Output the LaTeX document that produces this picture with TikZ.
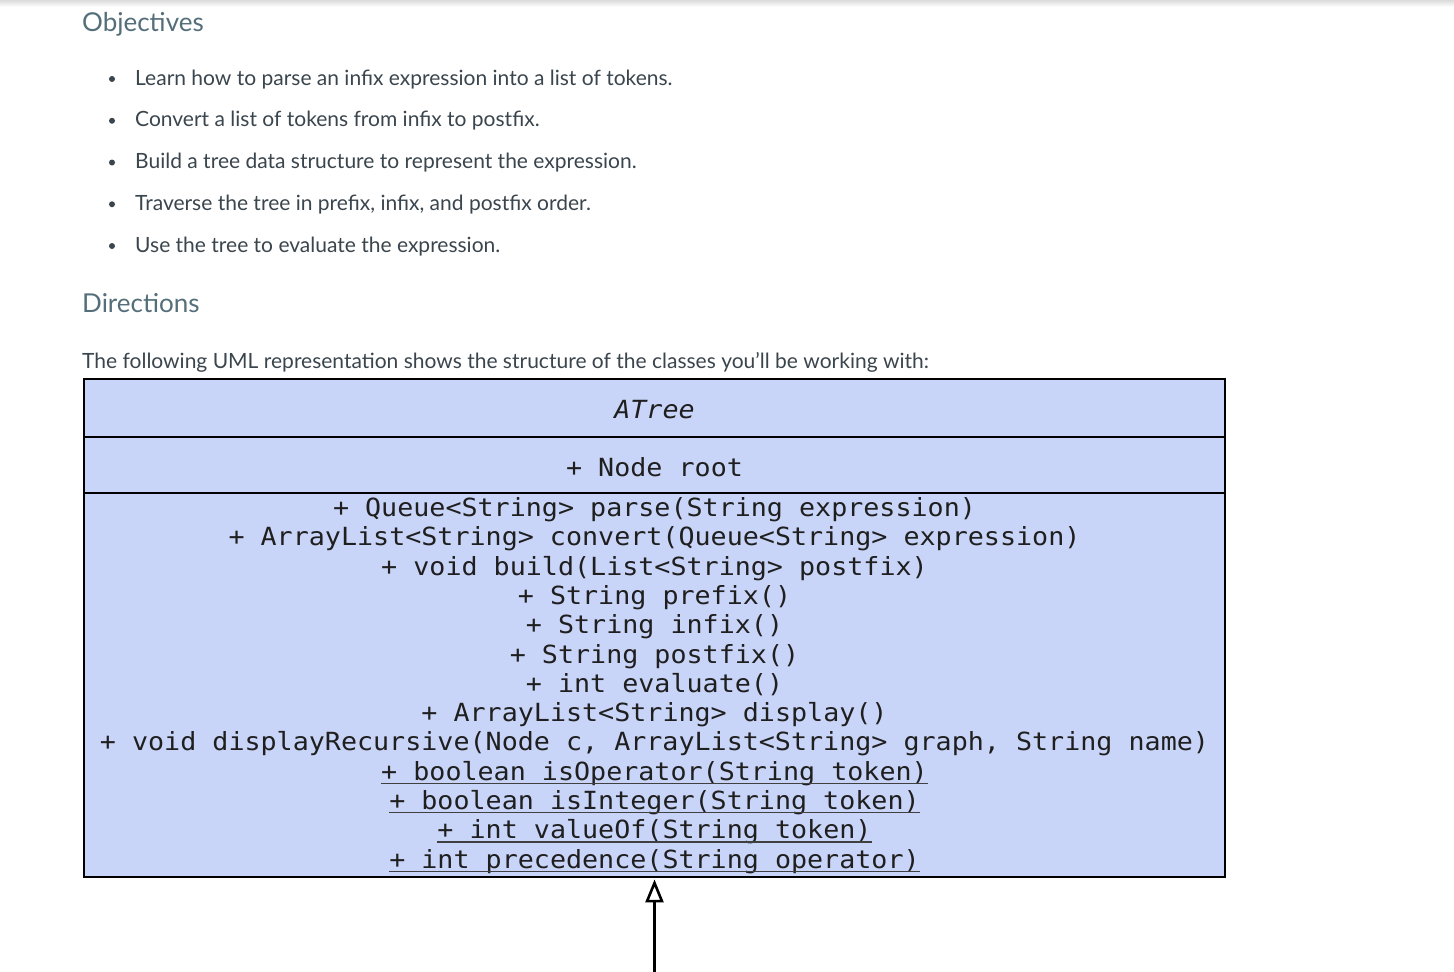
\documentclass[tikz,border=0pt]{standalone}
\usepackage{fontspec}
\setmainfont{Lato}
\newfontfamily\umlfont[FakeStretch=1.068]{DejaVu Sans Mono}
\usetikzlibrary{arrows.meta}
\definecolor{headcol}{HTML}{546E7A}
\definecolor{bodycol}{HTML}{3A454D}
\definecolor{umlfill}{HTML}{C9D5F8}
\begin{document}
\begin{tikzpicture}[x=1pt,y=-1pt,
  head/.style={anchor=base west, inner sep=0pt, text=headcol, font=\fontsize{26}{30}\selectfont},
  bodytext/.style={anchor=base west, inner sep=0pt, text=bodycol, font=\fontsize{21}{25}\selectfont},
  bulletdot/.style={circle, fill=bodycol, inner sep=0pt, minimum size=6pt},
  compart/.style={draw=black, line width=2.4pt, fill=umlfill, minimum width=1141pt, inner sep=0pt, anchor=north},
  umltext/.style={anchor=base, inner sep=0pt, font=\umlfont\fontsize{25}{30}\selectfont, text=black!88},
  uline/.style={line width=1.3pt, draw=black!75}]
\useasboundingbox (0,0) rectangle (1454,972);
\fill[white] (0,0) rectangle (1454,972);
\shade[top color=black!14, bottom color=white] (0,0) rectangle (1454,7);

\node[head] (obj) at (82,31) {Objectives};
\foreach \i/\t in {1/{Learn how to parse an infix expression into a list of tokens.},
                   2/{Convert a list of tokens from infix to postfix.},
                   3/{Build a tree data structure to represent the expression.},
                   4/{Traverse the tree in prefix, infix, and postfix order.},
                   5/{Use the tree to evaluate the expression.}}{
  \pgfmathsetmacro{\yb}{85+(\i-1)*41.75}
  \node[bulletdot] (d\i) at (112,\yb-6) {};
  \node[bodytext] (b\i) at (135,\yb) {\t};
}
\node[head] (dir) at (82,312) {Directions};
\node[bodytext] (intro) at (82,368) {The following UML representation shows the structure of the classes you’ll be working with:};

\node[compart, minimum height=58pt] (title) at (654.5,378) {};
\node[compart, minimum height=56pt] (attrs) at (654.5,436) {};
\node[compart, minimum height=384pt] (meths) at (654.5,492) {};

\node[umltext] (tname) at (654.5,418) {\itshape ATree};
\node[umltext] (aroot) at (654.5,476) {+ Node root};

\foreach \i/\t in {1/{+ Queue<String> parse(String expression)},
                   2/{+ ArrayList<String> convert(Queue<String> expression)},
                   3/{+ void build(List<String> postfix)},
                   4/{+ String prefix()},
                   5/{+ String infix()},
                   6/{+ String postfix()},
                   7/{+ int evaluate()},
                   8/{+ ArrayList<String> display()},
                   9/{+ void displayRecursive(Node c, ArrayList<String> graph, String name)},
                   10/{+ boolean isOperator(String token)},
                   11/{+ boolean isInteger(String token)},
                   12/{+ int valueOf(String token)},
                   13/{+ int precedence(String operator)}}{
  \pgfmathsetmacro{\yb}{516.5+(\i-1)*29.3}
  \node[umltext] (m\i) at (654.5,\yb) {\t};
}
\foreach \i in {10,11,12,13}{
  \draw[uline] ([yshift=-3.2pt]m\i.base west) -- ([yshift=-3.2pt]m\i.base east);
}

\coordinate (foot) at (654.5,972);
\draw[line width=2.5pt, shorten >=1pt, -{Triangle[open, length=23pt, width=18pt, line width=2.6pt]}] (foot) -- (meths.south);
\end{tikzpicture}
\end{document}
